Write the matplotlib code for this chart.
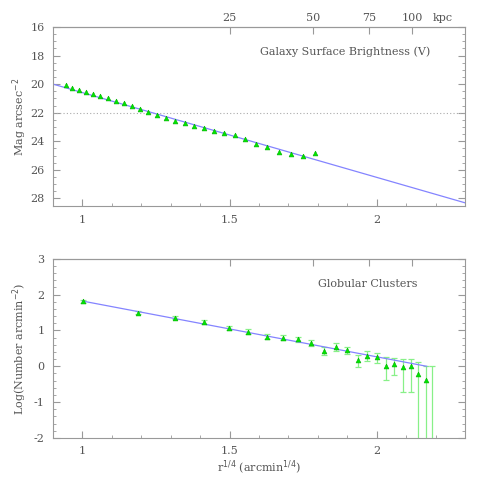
import numpy as np
import matplotlib
matplotlib.use("Agg")
import matplotlib.pyplot as plt
from matplotlib.ticker import MultipleLocator, FixedLocator

# galaxy surface brightness (V), r^1/4 in arcmin^1/4 vs mag/arcsec^2
sb_x = [0.943, 0.965, 0.989, 1.012, 1.037, 1.061, 1.087, 1.113, 1.141, 1.168,
        1.195, 1.224, 1.254, 1.283, 1.315, 1.347, 1.379, 1.413, 1.447, 1.482,
        1.518, 1.554, 1.591, 1.628, 1.669, 1.709, 1.749, 1.792]
sb_y = [20.08, 20.24, 20.38, 20.52, 20.69, 20.85, 20.99, 21.15, 21.34, 21.52,
        21.73, 21.97, 22.18, 22.36, 22.55, 22.74, 22.90, 23.09, 23.27, 23.41,
        23.58, 23.81, 24.16, 24.39, 24.74, 24.90, 25.02, 24.79]
sb_fit_x = [0.9, 2.3]
sb_fit_y = [20.0, 28.31]
sky_level = 22.0

# globular cluster density profile
gc_x = [1.002, 1.189, 1.316, 1.414, 1.497, 1.563, 1.626, 1.681, 1.732, 1.778,
        1.821, 1.861, 1.900, 1.935, 1.967, 2.000, 2.031, 2.060, 2.088, 2.116,
        2.142, 2.167, 2.189]
gc_y = [1.81, 1.49, 1.35, 1.24, 1.07, 0.97, 0.83, 0.79, 0.76, 0.64,
        0.44, 0.55, 0.45, 0.17, 0.30, 0.26, 0.0, 0.07, -0.01, 0.0,
        -0.22, -0.39, -2.6]
gc_err_lo = [0.04, 0.04, 0.04, 0.05, 0.05, 0.06, 0.06, 0.07, 0.07, 0.08,
             0.12, 0.11, 0.11, 0.20, 0.14, 0.16, 0.37, 0.30, 0.71, 0.72,
             2.5, 2.5, 2.5]
gc_err_hi = [0.04, 0.04, 0.04, 0.05, 0.05, 0.06, 0.06, 0.07, 0.07, 0.08,
             0.10, 0.10, 0.10, 0.14, 0.12, 0.12, 0.26, 0.16, 0.21, 0.20,
             0.33, 0.39, 2.6]
gc_fit_x = [1.0, 2.17]
gc_fit_y = [1.82, 0.0]

# top axis: projected distance in kpc
kpc_ticks = [25, 50, 75, 100]
kpc_labels = ["25", "50", "75", "100"]

plt.rcParams['font.family'] = 'DejaVu Serif'
plt.rcParams['font.size'] = 8
plt.rcParams['axes.unicode_minus'] = False

txt = '#555555'
frame = '#999999'
green = '#00e600'
errgreen = '#88f088'
fitblue = '#8484ff'


def to_kpc(x):
    return 25.0 * (np.asarray(x) / 1.5) ** 4


def from_kpc(k):
    return 1.5 * (np.clip(np.asarray(k), 0, None) / 25.0) ** 0.25


def style_axes(ax, ymajor, yminor):
    for s in ax.spines.values():
        s.set_color(frame)
    ax.set_xlim(0.9, 2.3)
    ax.xaxis.set_major_locator(MultipleLocator(0.5))
    ax.xaxis.set_minor_locator(MultipleLocator(0.1))
    ax.yaxis.set_major_locator(MultipleLocator(ymajor))
    ax.yaxis.set_minor_locator(MultipleLocator(yminor))
    ax.tick_params(which='both', direction='in', colors=frame, labelcolor=txt,
                   top=False, right=True)
    ax.tick_params(which='major', length=5, pad=6)
    ax.tick_params(which='minor', length=2.5)
    sec = ax.secondary_xaxis('top', functions=(to_kpc, from_kpc))
    sec.xaxis.set_major_locator(FixedLocator(kpc_ticks))
    sec.xaxis.set_minor_locator(FixedLocator([]))
    sec.tick_params(direction='in', length=5, colors=frame, labelcolor=txt, pad=3)
    sec.spines['top'].set_color(frame)
    return sec


fig = plt.figure(figsize=(4.91, 4.91), dpi=100)

ax1 = fig.add_axes([0.108, 0.580, 0.839, 0.365])
sec1 = style_axes(ax1, 2, 0.5)
sec1.set_xticklabels(kpc_labels)
ax1.text(0.945, 1.02, "kpc", transform=ax1.transAxes, ha='center', va='bottom',
         color=txt)
ax1.set_ylim(28.55, 16)
ax1.axhline(sky_level, color='#aaaaaa', lw=0.8, ls=(0, (1, 2)))
ax1.plot(sb_fit_x, sb_fit_y, color=fitblue, lw=0.9)
ax1.plot(sb_x, sb_y, ls='none', marker='^', ms=3.5, color=green, mec='#00b000',
         mew=0.4)
ax1.set_xticks([1, 1.5, 2])
ax1.set_xticklabels(["1", "1.5", "2"])
ax1.set_ylabel("Mag arcsec$^{-2}$", color=txt)
ax1.yaxis.set_label_coords(-0.058, 0.5)
ax1.text(0.709, 0.86, "Galaxy Surface Brightness (V)", transform=ax1.transAxes,
         ha='center', va='center', color=txt)

ax2 = fig.add_axes([0.108, 0.108, 0.839, 0.365])
sec2 = style_axes(ax2, 1, 0.2)
sec2.set_xticklabels([])
ax2.errorbar(gc_x, gc_y, yerr=[gc_err_lo, gc_err_hi], fmt='none',
             ecolor=errgreen, elinewidth=0.9, capsize=2.5, capthick=0.9)
ax2.plot(gc_fit_x, gc_fit_y, color=fitblue, lw=0.9)
ax2.plot(gc_x, gc_y, ls='none', marker='^', ms=3.5, color=green, mec='#00b000',
         mew=0.4)
ax2.set_ylim(-2, 3)
ax2.set_xticks([1, 1.5, 2])
ax2.set_xticklabels(["1", "1.5", "2"])
ax2.set_ylabel("Log(Number arcmin$^{-2}$)", color=txt)
ax2.yaxis.set_label_coords(-0.058, 0.5)
ax2.set_xlabel("r$^{1/4}$ (arcmin$^{1/4}$)", color=txt, labelpad=2)
ax2.text(0.763, 0.859, "Globular Clusters", transform=ax2.transAxes,
         ha='center', va='center', color=txt)

fig.savefig("out.png", dpi=100)
